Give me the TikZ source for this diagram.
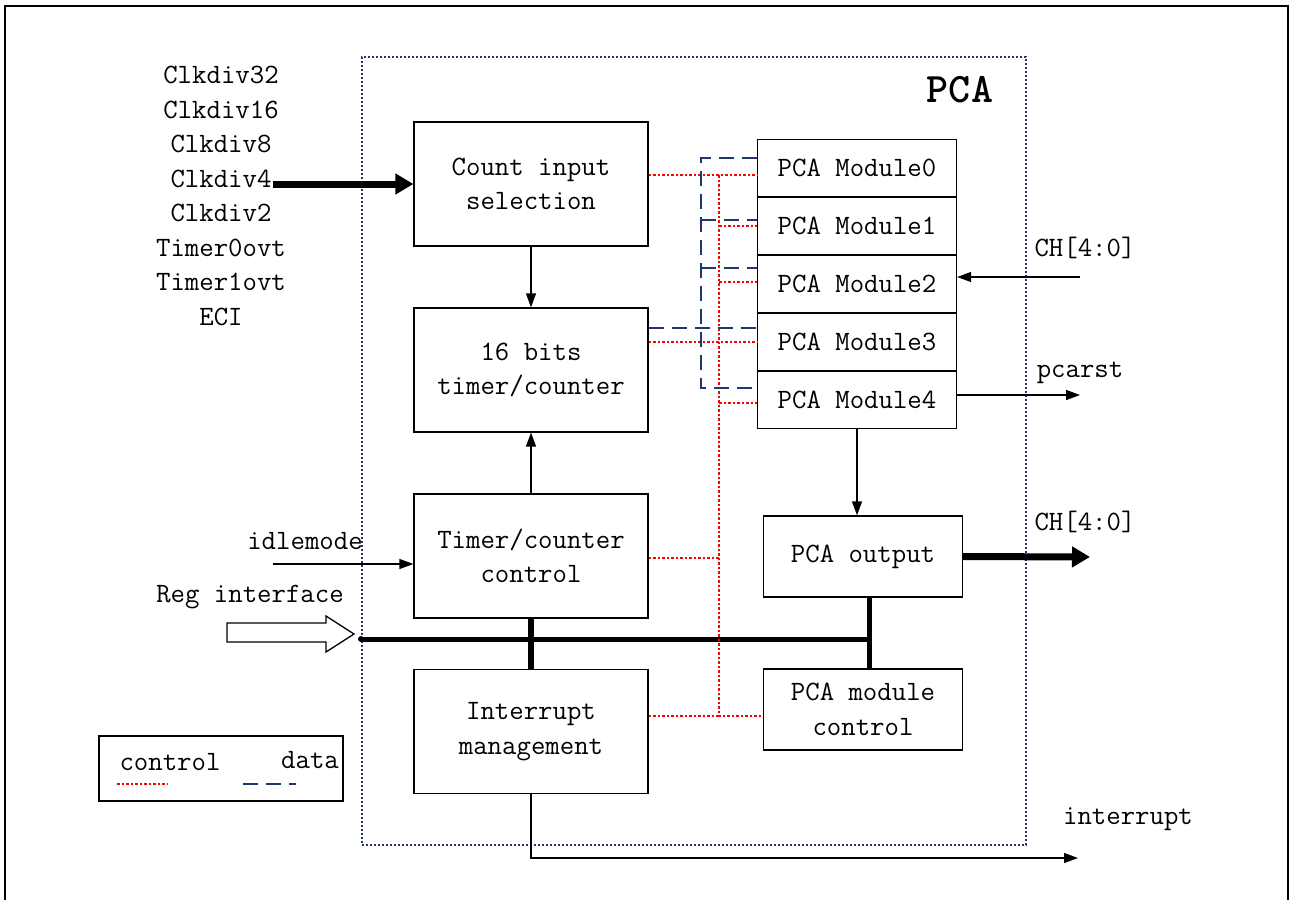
\documentclass[tikz,border=0pt]{standalone}
\usepackage{tikz}
\usetikzlibrary{positioning,arrows.meta,calc}
\definecolor{navy}{RGB}{32,56,110}
\tikzset{
    >={Triangle[length=14pt,width=10pt]},
    txt/.style={font=\fontsize{28}{34.5}\selectfont\ttfamily, inner sep=0pt},
    blk/.style={rectangle, draw, line width=1.3pt, align=center, txt, minimum width=234pt, minimum height=124pt},
    modbox/.style={rectangle, draw, line width=1.3pt, txt, minimum width=199pt, minimum height=57pt},
    outbox/.style={rectangle, draw, line width=1.3pt, align=center, txt, minimum width=199pt, minimum height=81pt},
    ctrlline/.style={red, line width=1.4pt, dash pattern=on 2.5pt off 2pt},
    dataline/.style={navy, line width=1.6pt, dash pattern=on 15pt off 8pt},
    bus/.style={line width=5pt},
    wide/.style={line width=7pt, -{Triangle[length=18pt,width=20pt]}}
}

\begin{document}
\begin{tikzpicture}[x=1pt, y=-1pt, line width=1.3pt]
    \useasboundingbox (0,0) rectangle (1290,900);
    \draw[line width=1.5pt] (5,900) -- (5,6) -- (1288,6) -- (1288,900);

    % PCA frame
    \node[draw, navy, line width=1.5pt, dash pattern=on 2pt off 2pt, minimum width=664pt, minimum height=788pt] (pca) at (694,451) {};
    \node[font=\fontsize{42}{42}\selectfont\ttfamily\bfseries, inner sep=0pt] (pcalbl) at (960,90) {PCA};

    % blocks
    \node[blk] (cnt) at (531,184) {Count input\\selection};
    \node[blk] (tmr) at (531,370) {16 bits\\timer/counter};
    \node[blk] (tctl) at (531,556) {Timer/counter\\control};
    \node[blk] (intm) at (531,731.5) {Interrupt\\management};

    \node[modbox] (m0) at (857,168) {PCA Module0};
    \node[modbox] (m1) at (857,226) {PCA Module1};
    \node[modbox] (m2) at (857,284) {PCA Module2};
    \node[modbox] (m3) at (857,342) {PCA Module3};
    \node[modbox] (m4) at (857,400) {PCA Module4};

    \node[outbox] (pout) at (863,556.5) {PCA output};
    \node[outbox] (mctl) at (863,709.5) {PCA module\\control};

    % inputs / outputs
    \node[txt, align=center] (clk) at (221,196) {Clkdiv32\\Clkdiv16\\Clkdiv8\\Clkdiv4\\Clkdiv2\\Timer0ovt\\Timer1ovt\\ECI};
    \coordinate (clkin) at (273,184);
    \draw[wide] (clkin) -- (cnt.west);

    \node[txt] (idle) at (305,541) {idlemode};
    \coordinate (idlein) at (273,564);
    \draw[->] (idlein) -- (idlein -| tctl.west);

    \node[txt] (reg) at (250,597) {Reg interface};
    \draw (227,623) -- (326,623) -- (326,616) -- (354,634) -- (326,652) -- (326,642) -- (227,642) -- cycle;

    \coordinate (busl) at (361,639);
    \coordinate (busr) at (869,639);
    \draw[bus] (busl) -- (busr);
    \fill (busl) circle (3pt);
    \draw[line width=6pt] (tctl.south) -- (intm.north);
    \draw[bus] (busr |- pout.south) -- (busr |- mctl.north);

    \draw[->] (cnt) -- (tmr);
    \draw[->] (tctl) -- (tmr);
    \draw[->] (m4.south) -- (m4.south |- pout.north);

    \node[txt] (chin) at (1085,248) {CH[4:0]};
    \coordinate (chsrc) at (1080,277);
    \draw[->] (chsrc) -- (chsrc -| m2.east);

    \node[txt] (rst) at (1080,373) {pcarst};
    \coordinate (rstout) at (1080,395);
    \draw[->] ([yshift=5pt]m4.east) -- (rstout);

    \node[txt] (chout) at (1085,522) {CH[4:0]};
    \coordinate (choutend) at (1090,557);
    \draw[wide] (pout.east) -- (choutend);

    \node[txt] (irq) at (1128,819) {interrupt};
    \coordinate (irqend) at (1078,858);
    \draw[->] (intm.south) |- (irqend);

    % control lines
    \coordinate (cx) at (719,175);
    \coordinate (cy) at (719,716);
    \draw[ctrlline] ([yshift=9pt]cnt.east) -- ([yshift=-7pt]m0.west);
    \draw[ctrlline] (cx) -- (cy) -- (cy -| mctl.west);
    \draw[ctrlline] (cx |- 0,226) -- (m1.west |- 0,226);
    \draw[ctrlline] (cx |- 0,282) -- (m2.west |- 0,282);
    \draw[ctrlline] ([yshift=28pt]tmr.east) -- (m3.west |- 0,342);
    \draw[ctrlline] (cx |- 0,403) -- (m4.west |- 0,403);
    \draw[ctrlline] ([yshift=-2pt]tctl.east) -- (cx |- 0,558);
    \draw[ctrlline] ([yshift=15.5pt]intm.east) -- (cy);

    % data lines
    \coordinate (dtop) at (701,158);
    \coordinate (dbot) at (701,388);
    \draw[dataline] ([yshift=10pt]m0.west) -- (dtop) -- (dbot) -- (dbot -| m4.west);
    \draw[dataline] (dtop |- 0,220) -- (m1.west |- 0,220);
    \draw[dataline] (dtop |- 0,268) -- (m2.west |- 0,268);
    \draw[dataline] ([yshift=42pt]tmr.east) -- (m3.west |- 0,328);

    % legend
    \node[draw, minimum width=244pt, minimum height=65pt] (legend) at (221,768.5) {};
    \node[txt] (lgctrl) at (170,762) {control};
    \node[txt] (lgdata) at (310,760) {data};
    \draw[ctrlline] (117,784) -- (168,784);
    \draw[dataline] (243,784) -- (296,784);
\end{tikzpicture}
\end{document}
